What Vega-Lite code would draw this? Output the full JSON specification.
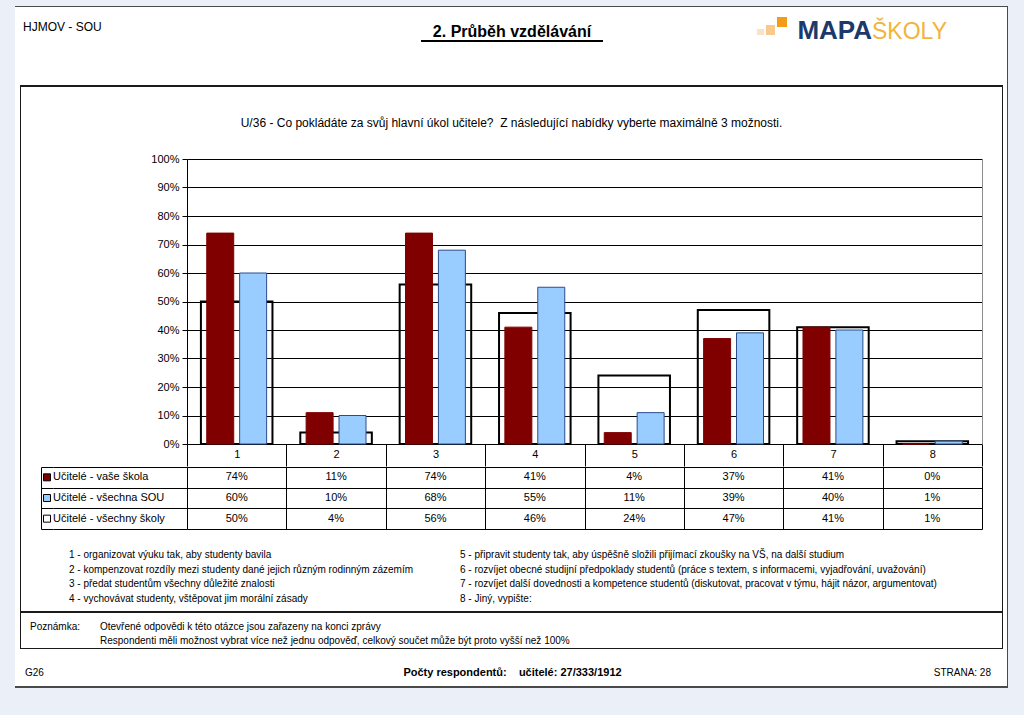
{
"$schema":"https://vega.github.io/schema/vega-lite/v6.json",
"background":"#FFFFFF",
"padding":0,
"spacing":0,
"config":{"view":{"stroke":null},"font":"Liberation Sans","text":{"color":"#000000"},"concat":{"spacing":0}},
"datasets":{
"main":[
{"kat":1,"serie":"Učitelé - vaše škola","podil":0.74},{"kat":1,"serie":"Učitelé - všechna SOU","podil":0.60},{"kat":1,"serie":"Učitelé - všechny školy","podil":0.50},
{"kat":2,"serie":"Učitelé - vaše škola","podil":0.11},{"kat":2,"serie":"Učitelé - všechna SOU","podil":0.10},{"kat":2,"serie":"Učitelé - všechny školy","podil":0.04},
{"kat":3,"serie":"Učitelé - vaše škola","podil":0.74},{"kat":3,"serie":"Učitelé - všechna SOU","podil":0.68},{"kat":3,"serie":"Učitelé - všechny školy","podil":0.56},
{"kat":4,"serie":"Učitelé - vaše škola","podil":0.41},{"kat":4,"serie":"Učitelé - všechna SOU","podil":0.55},{"kat":4,"serie":"Učitelé - všechny školy","podil":0.46},
{"kat":5,"serie":"Učitelé - vaše škola","podil":0.04},{"kat":5,"serie":"Učitelé - všechna SOU","podil":0.11},{"kat":5,"serie":"Učitelé - všechny školy","podil":0.24},
{"kat":6,"serie":"Učitelé - vaše škola","podil":0.37},{"kat":6,"serie":"Učitelé - všechna SOU","podil":0.39},{"kat":6,"serie":"Učitelé - všechny školy","podil":0.47},
{"kat":7,"serie":"Učitelé - vaše škola","podil":0.41},{"kat":7,"serie":"Učitelé - všechna SOU","podil":0.40},{"kat":7,"serie":"Učitelé - všechny školy","podil":0.41},
{"kat":8,"serie":"Učitelé - vaše škola","podil":0.00},{"kat":8,"serie":"Učitelé - všechna SOU","podil":0.01},{"kat":8,"serie":"Učitelé - všechny školy","podil":0.01}
],
"serie":[{"serie":"Učitelé - vaše škola"},{"serie":"Učitelé - všechna SOU"},{"serie":"Učitelé - všechny školy"}]
},
"vconcat":[
 {"width":1024,"height":6,"view":{"fill":"#EBEFF8"},"data":{"values":[]},"mark":"point"},
 {"spacing":0,"hconcat":[
   {"width":15,"height":682,"view":{"fill":"#EBEFF8"},"data":{"values":[]},"mark":"point"},
   {"spacing":0,"vconcat":[
     {"width":993,"height":1,"view":{"fill":"#4A4A4A"},"data":{"values":[]},"mark":"point"},
     {"spacing":0,"hconcat":[
       {"spacing":0,"vconcat":[
         {"spacing":0,"hconcat":[
           {"width":8,"height":78,"data":{"values":[]},"mark":"point"},
           {"spacing":0,"vconcat":[
             {"width":244,"height":40,"data":{"values":[{"t":"HJMOV - SOU"}]},"mark":{"type":"text","align":"left","baseline":"middle","fontSize":12},"encoding":{"x":{"datum":0,"type":"quantitative","scale":{"domain":[0,1]},"axis":null},"text":{"field":"t"}}},
             {"width":244,"height":38,"data":{"values":[]},"mark":"point"}
           ]},
           {"spacing":0,"vconcat":[
             {"width":490,"height":33,"data":{"values":[{"t":"2. Průběh vzdělávání"}]},"mark":{"type":"text","baseline":"bottom","fontSize":16,"fontWeight":"bold"},"encoding":{"y":{"datum":0,"type":"quantitative","scale":{"domain":[0,1]},"axis":null},"text":{"field":"t"}}},
             {"spacing":0,"bounds":"flush","hconcat":[
               {"width":154,"height":2,"data":{"values":[]},"mark":"point"},
               {"width":182,"height":2,"view":{"fill":"#000000"},"data":{"values":[]},"mark":"point"},
               {"width":154,"height":2,"data":{"values":[]},"mark":"point"}
             ]},
             {"width":490,"height":43,"data":{"values":[]},"mark":"point"}
           ]},
           {"spacing":0,"vconcat":[
             {"spacing":0,"hconcat":[
               {"spacing":0,"hconcat":[
                 {"spacing":0,"bounds":"flush","vconcat":[
                   {"width":7,"height":22,"data":{"values":[]},"mark":"point"},
                   {"width":7,"height":6,"view":{"fill":"#FCE2C4"},"data":{"values":[]},"mark":"point"},
                   {"width":7,"height":3,"data":{"values":[]},"mark":"point"}
                 ]},
                 {"width":2,"height":31,"data":{"values":[]},"mark":"point"},
                 {"spacing":0,"bounds":"flush","vconcat":[
                   {"width":9,"height":18,"data":{"values":[]},"mark":"point"},
                   {"width":9,"height":10,"view":{"fill":"#F8C98A"},"data":{"values":[]},"mark":"point"},
                   {"width":9,"height":3,"data":{"values":[]},"mark":"point"}
                 ]},
                 {"width":2,"height":31,"data":{"values":[]},"mark":"point"},
                 {"spacing":0,"bounds":"flush","vconcat":[
                   {"width":10,"height":10,"data":{"values":[]},"mark":"point"},
                   {"width":10,"height":10,"view":{"fill":"#F29C1A"},"data":{"values":[]},"mark":"point"},
                   {"width":10,"height":11,"data":{"values":[]},"mark":"point"}
                 ]},
                 {"width":5,"height":31,"data":{"values":[]},"mark":"point"}
               ]},
               {"width":80,"height":37,"data":{"values":[{"t":"MAPA"}]},"mark":{"type":"text","align":"right","baseline":"bottom","font":"Liberation Sans","fontSize":26,"fontWeight":"bold","color":"#1B3A6B"},"encoding":{"x":{"datum":1,"type":"quantitative","scale":{"domain":[0,1]},"axis":null},"y":{"datum":0,"type":"quantitative","scale":{"domain":[0,1]},"axis":null},"text":{"field":"t"}}},
               {"width":80,"height":37,"data":{"values":[{"t":"ŠKOLY"}]},"mark":{"type":"text","align":"left","baseline":"bottom","font":"Liberation Sans","fontSize":23,"color":"#F2B43C"},"encoding":{"x":{"datum":0,"type":"quantitative","scale":{"domain":[0,1]},"axis":null},"y":{"datum":0,"type":"quantitative","scale":{"domain":[0,1]},"axis":null},"text":{"field":"t"}}},
               {"width":55,"height":37,"data":{"values":[]},"mark":"point"}
             ]},
             {"width":250,"height":41,"data":{"values":[]},"mark":"point"}
           ]}
         ]},
         {"spacing":0,"bounds":"flush","hconcat":[
           {"width":5,"height":2,"data":{"values":[]},"mark":"point"},
           {"width":983,"height":2,"view":{"fill":"#1A1A1A"},"data":{"values":[]},"mark":"point"},
           {"width":4,"height":2,"data":{"values":[]},"mark":"point"}
         ]},
         {"spacing":0,"hconcat":[
           {"width":5,"height":524,"data":{"values":[]},"mark":"point"},
           {"width":1,"height":524,"view":{"fill":"#1A1A1A"},"data":{"values":[]},"mark":"point"},
           {"spacing":0,"vconcat":[
             {"width":981,"height":7,"data":{"values":[]},"mark":"point"},
             {"width":981,"height":58,"data":{"values":[{"t":"U/36 - Co pokládáte za svůj hlavní úkol učitele?\u00a0 Z následující nabídky vyberte maximálně 3 možnosti."}]},"mark":{"type":"text","baseline":"middle","fontSize":12},"encoding":{"text":{"field":"t"}}},
             {"spacing":0,"bounds":"flush","hconcat":[
               {"width":166,"height":298,"data":{"values":[]},"mark":"point"},
               {"width":795,"height":298,"data":{"name":"main"},
                "encoding":{"x":{"field":"kat","type":"ordinal","scale":{"paddingInner":0,"paddingOuter":0},"axis":{"orient":"bottom","offset":-6,"title":null,"labelAngle":0,"tickBand":"extent","tickSize":22,"tickColor":"#000000","domainColor":"#000000","labelBaseline":"middle","labelPadding":-12,"labelFontSize":11,"labelColor":"#000000","grid":false}}},
                "layer":[
                  {"transform":[{"filter":"datum.serie == 'Učitelé - všechny školy'"}],
                   "mark":{"type":"bar","width":{"band":0.72},"fill":"transparent","stroke":"#000000","strokeWidth":2},
                   "encoding":{"y":{"field":"podil","type":"quantitative","stack":null,"scale":{"domain":[0,1],"range":[292,7],"nice":false,"zero":false},"axis":{"orient":"right","title":null,"labels":false,"ticks":false,"grid":false,"domain":true,"domainColor":"#8C8C8C","minExtent":0}}}},
                  {"transform":[{"filter":"datum.serie != 'Učitelé - všechny školy'"}],
                   "mark":{"type":"bar","strokeWidth":1},
                   "encoding":{
                     "y":{"field":"podil","type":"quantitative","stack":null,"scale":{"domain":[0,1],"range":[292,7],"nice":false,"zero":false},"axis":{"orient":"left","title":null,"values":[0,0.1,0.2,0.3,0.4,0.5,0.6,0.7,0.8,0.9,1],"format":".0%","grid":true,"gridColor":"#000000","domainColor":"#000000","tickColor":"#000000","tickSize":5,"labelFontSize":11,"labelColor":"#000000","labelPadding":3}},
                     "xOffset":{"field":"serie","type":"nominal","scale":{"domain":["Učitelé - vaše škola","Učitelé - všechna SOU"],"paddingInner":0.18,"paddingOuter":0.6}},
                     "fill":{"field":"serie","type":"nominal","scale":{"domain":["Učitelé - vaše škola","Učitelé - všechna SOU","Učitelé - všechny školy"],"range":["#800000","#99CCFF","#FFFFFF"]},"legend":null},
                     "stroke":{"field":"serie","type":"nominal","scale":{"domain":["Učitelé - vaše škola","Učitelé - všechna SOU"],"range":["#800000","#2B4C8C"]},"legend":null}
                   }}
                ],
                "resolve":{"scale":{"y":"independent"}}
               },
               {"width":20,"height":298,"data":{"values":[]},"mark":"point"}
             ]},
             {"spacing":0,"bounds":"flush","hconcat":[
               {"width":20,"height":62,"data":{"values":[]},"mark":"point"},
               {"width":12,"height":62,"data":{"name":"serie"},"mark":{"type":"square","size":49,"filled":true,"stroke":"#000000","strokeWidth":1,"opacity":1},
                "encoding":{"y":{"field":"serie","type":"nominal","sort":null,"scale":{"type":"band","domain":["Učitelé - vaše škola","Učitelé - všechna SOU","Učitelé - všechny školy"],"paddingInner":0,"paddingOuter":0},"axis":{"title":null,"labels":false,"ticks":false,"domain":true,"domainColor":"#000000","grid":true,"gridColor":"#000000","tickBand":"extent","minExtent":0}},
                "fill":{"field":"serie","type":"nominal","scale":{"domain":["Učitelé - vaše škola","Učitelé - všechna SOU","Učitelé - všechny školy"],"range":["#800000","#99CCFF","#FFFFFF"]},"legend":null}}},
               {"width":134,"height":62,"data":{"name":"serie"},"mark":{"type":"text","align":"left","baseline":"middle","fontSize":11},
                "encoding":{"x":{"datum":0,"type":"quantitative","scale":{"domain":[0,1]},"axis":null},
                "y":{"field":"serie","type":"nominal","sort":null,"scale":{"type":"band","domain":["Učitelé - vaše škola","Učitelé - všechna SOU","Učitelé - všechny školy"],"paddingInner":0,"paddingOuter":0},"axis":{"title":null,"labels":false,"ticks":false,"domain":false,"grid":true,"gridColor":"#000000","tickBand":"extent","minExtent":0}},
                "text":{"field":"serie"}}},
               {"width":795,"height":62,"data":{"name":"main"},"mark":{"type":"text","baseline":"middle","fontSize":11},
                "encoding":{"x":{"field":"kat","type":"ordinal","scale":{"paddingInner":0,"paddingOuter":0},"axis":{"title":null,"labels":false,"ticks":false,"domain":false,"grid":true,"gridColor":"#000000","tickBand":"extent"}},
                "y":{"field":"serie","type":"nominal","scale":{"type":"band","domain":["Učitelé - vaše škola","Učitelé - všechna SOU","Učitelé - všechny školy"],"paddingInner":0,"paddingOuter":0},"axis":{"title":null,"labels":false,"ticks":false,"domain":false,"grid":true,"gridColor":"#000000","tickBand":"extent","minExtent":0}},
                "text":{"field":"podil","type":"quantitative","format":".0%"}}},
               {"width":20,"height":62,"data":{"values":[]},"mark":"point"}
             ]},
             {"width":981,"height":19,"data":{"values":[]},"mark":"point"},
             {"spacing":0,"bounds":"flush","hconcat":[
               {"width":48,"height":58,"data":{"values":[]},"mark":"point"},
               {"width":391,"height":58,"data":{"values":[
                 {"popis":"1 - organizovat výuku tak, aby studenty bavila"},
                 {"popis":"2 - kompenzovat rozdíly mezi studenty dané jejich různým rodinným zázemím"},
                 {"popis":"3 - předat studentům všechny důležité znalosti"},
                 {"popis":"4 - vychovávat studenty, vštěpovat jim morální zásady"}]},
                "mark":{"type":"text","align":"left","baseline":"middle","fontSize":10},
                "encoding":{"x":{"datum":0,"type":"quantitative","scale":{"domain":[0,1]},"axis":null},"y":{"field":"popis","type":"nominal","sort":null,"scale":{"type":"band","paddingInner":0,"paddingOuter":0},"axis":null},"text":{"field":"popis"}}},
               {"width":542,"height":58,"data":{"values":[
                 {"popis":"5 - připravit studenty tak, aby úspěšně složili přijímací zkoušky na VŠ, na další studium"},
                 {"popis":"6 - rozvíjet obecné studijní předpoklady studentů (práce s textem, s informacemi, vyjadřování, uvažování)"},
                 {"popis":"7 - rozvíjet další dovednosti a kompetence studentů (diskutovat, pracovat v týmu, hájit názor, argumentovat)"},
                 {"popis":"8 - Jiný, vypište:"}]},
                "mark":{"type":"text","align":"left","baseline":"middle","fontSize":10},
                "encoding":{"x":{"datum":0,"type":"quantitative","scale":{"domain":[0,1]},"axis":null},"y":{"field":"popis","type":"nominal","sort":null,"scale":{"type":"band","paddingInner":0,"paddingOuter":0},"axis":null},"text":{"field":"popis"}}}
             ]},
             {"width":981,"height":4,"data":{"values":[]},"mark":"point"}
           ]},
           {"width":1,"height":524,"view":{"fill":"#1A1A1A"},"data":{"values":[]},"mark":"point"},
           {"width":4,"height":524,"data":{"values":[]},"mark":"point"}
         ]},
         {"spacing":0,"bounds":"flush","hconcat":[
           {"width":5,"height":2,"data":{"values":[]},"mark":"point"},
           {"width":983,"height":2,"view":{"fill":"#1A1A1A"},"data":{"values":[]},"mark":"point"},
           {"width":4,"height":2,"data":{"values":[]},"mark":"point"}
         ]},
         {"spacing":0,"hconcat":[
           {"width":5,"height":35,"data":{"values":[]},"mark":"point"},
           {"width":1,"height":35,"view":{"fill":"#1A1A1A"},"data":{"values":[]},"mark":"point"},
           {"spacing":0,"vconcat":[
             {"width":981,"height":7,"data":{"values":[]},"mark":"point"},
             {"spacing":0,"bounds":"flush","hconcat":[
               {"width":9,"height":28,"data":{"values":[]},"mark":"point"},
               {"width":70,"height":14,"data":{"values":[{"t":"Poznámka:"}]},"mark":{"type":"text","align":"left","baseline":"middle","fontSize":10},"encoding":{"x":{"datum":0,"type":"quantitative","scale":{"domain":[0,1]},"axis":null},"text":{"field":"t"}}},
               {"width":902,"height":28,"data":{"values":[
                 {"t":"Otevřené odpovědi k této otázce jsou zařazeny na konci zprávy"},
                 {"t":"Respondenti měli možnost vybrat více než jednu odpověď, celkový součet může být proto vyšší než 100%"}]},
                "mark":{"type":"text","align":"left","baseline":"middle","fontSize":10},
                "encoding":{"x":{"datum":0,"type":"quantitative","scale":{"domain":[0,1]},"axis":null},"y":{"field":"t","type":"nominal","sort":null,"scale":{"type":"band","paddingInner":0,"paddingOuter":0},"axis":null},"text":{"field":"t"}}}
             ]}
           ]},
           {"width":1,"height":35,"view":{"fill":"#1A1A1A"},"data":{"values":[]},"mark":"point"},
           {"width":4,"height":35,"data":{"values":[]},"mark":"point"}
         ]},
         {"spacing":0,"bounds":"flush","hconcat":[
           {"width":5,"height":1,"data":{"values":[]},"mark":"point"},
           {"width":983,"height":1,"view":{"fill":"#1A1A1A"},"data":{"values":[]},"mark":"point"},
           {"width":4,"height":1,"data":{"values":[]},"mark":"point"}
         ]},
         {"spacing":0,"vconcat":[
           {"width":992,"height":12,"data":{"values":[]},"mark":"point"},
           {"spacing":0,"bounds":"flush","hconcat":[
             {"width":10,"height":24,"data":{"values":[]},"mark":"point"},
             {"width":150,"height":24,"data":{"values":[{"t":"G26"}]},"mark":{"type":"text","align":"left","baseline":"middle","fontSize":10},"encoding":{"x":{"datum":0,"type":"quantitative","scale":{"domain":[0,1]},"axis":null},"text":{"field":"t"}}},
             {"width":675,"height":24,"data":{"values":[{"t":"Počty respondentů:\u00a0\u00a0\u00a0 učitelé: 27/333/1912"}]},"mark":{"type":"text","baseline":"middle","fontSize":11,"fontWeight":"bold"},"encoding":{"text":{"field":"t"}}},
             {"width":141,"height":24,"data":{"values":[{"t":"STRANA: 28"}]},"mark":{"type":"text","align":"right","baseline":"middle","fontSize":10},"encoding":{"x":{"datum":1,"type":"quantitative","scale":{"domain":[0,1]},"axis":null},"text":{"field":"t"}}},
             {"width":16,"height":24,"data":{"values":[]},"mark":"point"}
           ]},
           {"width":992,"height":1,"data":{"values":[]},"mark":"point"}
         ]}
       ]},
       {"width":1,"height":679,"view":{"fill":"#4A4A4A"},"data":{"values":[]},"mark":"point"}
     ]},
     {"width":993,"height":2,"view":{"fill":"#4A4A4A"},"data":{"values":[]},"mark":"point"}
   ]},
   {"width":16,"height":682,"view":{"fill":"#EBEFF8"},"data":{"values":[]},"mark":"point"}
 ]},
 {"width":1024,"height":27,"view":{"fill":"#EBEFF8"},"data":{"values":[]},"mark":"point"}
]
}
